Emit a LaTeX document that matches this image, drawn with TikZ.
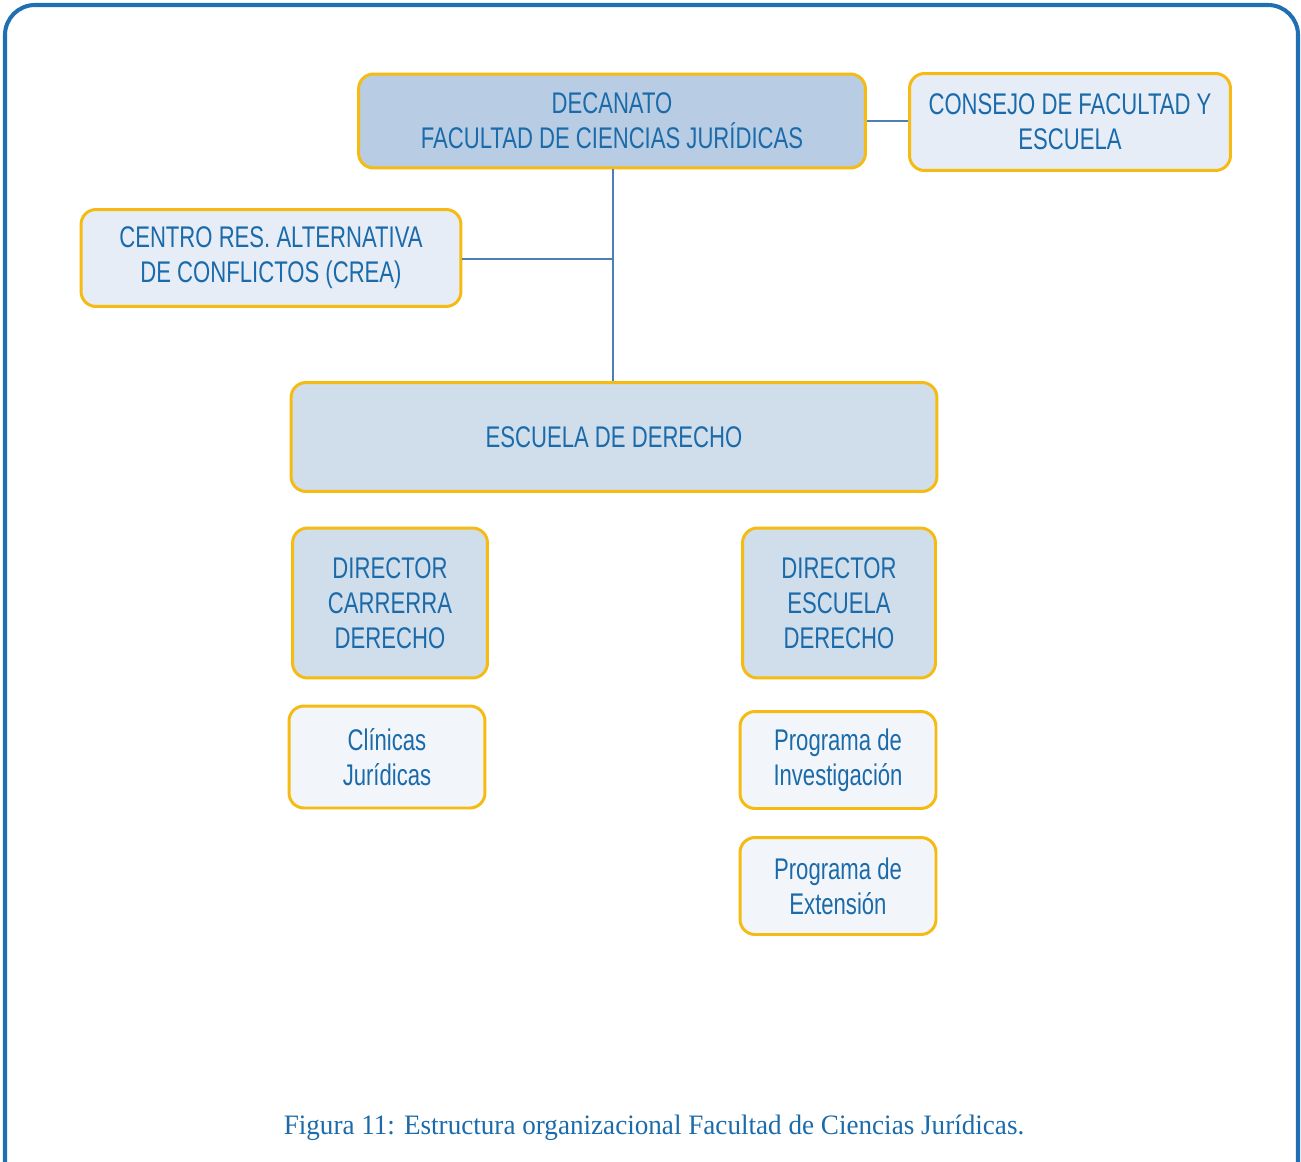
\documentclass[tikz,border=0pt]{standalone}
\usepackage{fontspec}
\setsansfont{Liberation Sans}[FakeStretch=0.74]
\newfontfamily\capfont{Liberation Serif}[FakeStretch=0.965]
\definecolor{framecol}{HTML}{1F6FB2}
\definecolor{boxline}{HTML}{F6BB12}
\definecolor{txtcol}{HTML}{1B6BAA}
\definecolor{linkcol}{HTML}{4A80B4}
\definecolor{filldark}{HTML}{B8CDE4}
\definecolor{fillmid}{HTML}{D0DEEC}
\definecolor{filllight}{HTML}{E6EDF7}
\definecolor{fillpale}{HTML}{F2F5FA}
\begin{document}
\begin{tikzpicture}[x=0.02cm,y=-0.02cm,
  orgbox/.style={draw=boxline,line width=1.7pt,rounded corners=0.3cm,align=center,
    text=txtcol,font=\sffamily\fontsize{17}{20}\selectfont,inner sep=0pt},
  link/.style={linkcol,line width=0.8pt}]
\useasboundingbox (0,0) rectangle (1301,1162);
\draw[framecol,line width=2.3pt,rounded corners=0.6cm](5,1200)--(5,5)--(1298,5)--(1298,1200);
\node[orgbox,fill=filldark,minimum width=10.14cm,minimum height=1.88cm](dec) at (612,121){DECANATO\\FACULTAD DE CIENCIAS JURÍDICAS};
\node[orgbox,fill=filllight,minimum width=6.42cm,minimum height=1.94cm](cons) at (1070,122){CONSEJO DE FACULTAD Y\\ESCUELA};
\node[orgbox,fill=filllight,minimum width=7.6cm,minimum height=1.94cm](crea) at (271,258){CENTRO RES. ALTERNATIVA\\DE CONFLICTOS (CREA)};
\node[orgbox,fill=fillmid,minimum width=12.92cm,minimum height=2.18cm](esc) at (614,437){ESCUELA DE DERECHO};
\node[orgbox,fill=fillmid,minimum width=3.9cm,minimum height=3cm](dcar) at (390,603){DIRECTOR\\CARRERRA\\DERECHO};
\node[orgbox,fill=fillmid,minimum width=3.86cm,minimum height=3cm](desc) at (839,603){DIRECTOR\\ESCUELA\\DERECHO};
\node[orgbox,fill=fillpale,minimum width=3.92cm,minimum height=2.04cm](clin) at (387,757){Clínicas\\Jurídicas};
\node[orgbox,fill=fillpale,minimum width=3.92cm,minimum height=1.94cm](pinv) at (838,760){Programa de\\Investigación};
\node[orgbox,fill=fillpale,minimum width=3.92cm,minimum height=1.94cm](pext) at (838,886){Programa de\\Extensión};
% connectors
\draw[link](dec.south-|613,0)--(esc.north-|613,0);
\draw[link](crea.east|-0,259)--(613,259);
\draw[link](dec.east)--(cons.west|-dec.east);
\node[text=txtcol,font=\capfont\fontsize{16}{19}\selectfont](cap) at (654,1128){Figura 11: Estructura organizacional Facultad de Ciencias Jurídicas.};
\end{tikzpicture}
\end{document}
